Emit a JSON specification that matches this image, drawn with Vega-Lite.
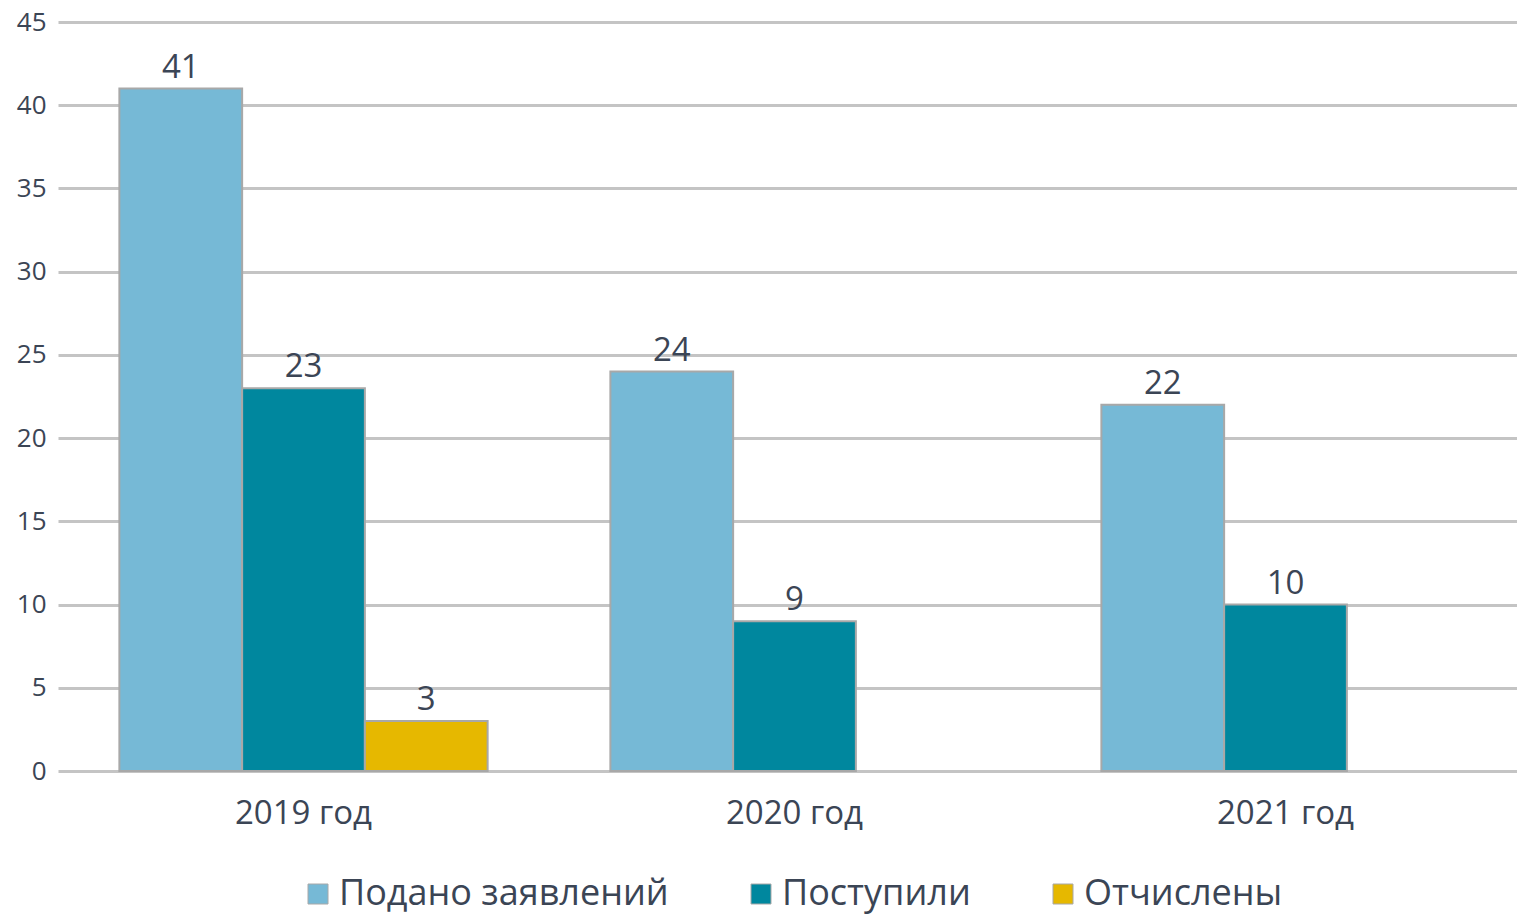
{
  "$schema": "https://vega.github.io/schema/vega-lite/v6.json",
  "autosize": {"type": "none"},
  "width": 1473,
  "height": 749,
  "padding": {"left": 58, "top": 22, "right": 0, "bottom": 145},
  "background": "white",
  "config": {
    "view": {"stroke": null},
    "font": "Open Sans",
    "axis": {"labelFont": "Open Sans", "labelColor": "#3b4555"},
    "legend": {"labelFont": "Open Sans", "labelColor": "#3b4555"}
  },
  "data": {
    "values": [
      {"year": "2019 год", "series": "Подано заявлений", "value": 41},
      {"year": "2019 год", "series": "Поступили", "value": 23},
      {"year": "2019 год", "series": "Отчислены", "value": 3},
      {"year": "2020 год", "series": "Подано заявлений", "value": 24},
      {"year": "2020 год", "series": "Поступили", "value": 9},
      {"year": "2021 год", "series": "Подано заявлений", "value": 22},
      {"year": "2021 год", "series": "Поступили", "value": 10}
    ]
  },
  "encoding": {
    "x": {
      "field": "year", "type": "nominal", "title": null,
      "scale": {"paddingInner": 0.25, "paddingOuter": 0.125},
      "axis": {"labelAngle": 0, "labelFontSize": 33, "labelPadding": 26, "ticks": false, "domain": false, "grid": false}
    },
    "xOffset": {
      "field": "series", "type": "nominal",
      "sort": ["Подано заявлений", "Поступили", "Отчислены"],
      "scale": {"domain": ["Подано заявлений", "Поступили", "Отчислены"], "paddingInner": 0, "paddingOuter": 0}
    },
    "y": {
      "field": "value", "type": "quantitative", "title": null,
      "scale": {"domain": [0, 45], "nice": false},
      "axis": {"values": [0,5,10,15,20,25,30,35,40,45], "labelFontSize": 26, "labelPadding": 12, "ticks": false, "domain": false, "gridColor": "#c4c4c4", "gridWidth": 3}
    }
  },
  "layer": [
    {
      "mark": {"type": "bar", "stroke": "#a8a8a8", "strokeWidth": 2},
      "encoding": {
        "color": {
          "field": "series", "type": "nominal",
          "sort": ["Подано заявлений", "Поступили", "Отчислены"],
          "scale": {"domain": ["Подано заявлений", "Поступили", "Отчислены"], "range": ["#76b9d6", "#00879e", "#e6b800"]},
          "legend": {
            "title": null, "orient": "none", "direction": "horizontal",
            "legendX": 242, "legendY": 854,
            "symbolType": "square", "symbolSize": 400, "symbolStrokeColor": "#a8a8a8", "symbolStrokeWidth": 1,
            "labelFontSize": 36, "labelLimit": 600, "columnPadding": 74, "symbolOffset": 0, "labelOffset": 3
          }
        }
      }
    },
    {
      "mark": {"type": "text", "baseline": "bottom", "dy": -4, "fontSize": 33, "color": "#3b4555"},
      "encoding": {"text": {"field": "value", "type": "quantitative"}}
    }
  ]
}
